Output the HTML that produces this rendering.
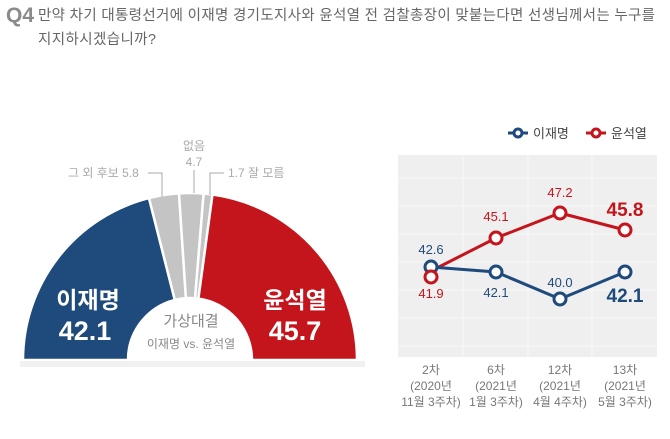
<!DOCTYPE html>
<html><head><meta charset="utf-8"><style>
body{margin:0;background:#fff;width:670px;height:434px;overflow:hidden;font-family:"Liberation Sans","Noto Sans CJK KR",sans-serif}
</style></head><body>
<svg width="670" height="434" viewBox="0 0 670 434" xmlns="http://www.w3.org/2000/svg" font-family="Liberation Sans, Noto Sans CJK KR, sans-serif">
<text x="6" y="22" font-size="21" font-weight="bold" fill="#8a8a8a">Q4</text>
<text x="38" y="20" font-size="14.5" fill="#666" textLength="617" lengthAdjust="spacing">만약 차기 대통령선거에 이재명 경기도지사와 윤석열 전 검찰총장이 맞붙는다면 선생님께서는 누구를</text>
<text x="38" y="44" font-size="14.5" fill="#666" textLength="118" lengthAdjust="spacing">지지하시겠습니까?</text>

<g stroke="#fff" stroke-width="2.5">
<path d="M23,360 A167,167 0 0 1 149,198.1 L174.8,299.9 A62,62 0 0 0 128,360Z" fill="#1f4a7c"/>
<path d="M149,198.1 A167,167 0 0 1 179,193.4 L185.9,298.1 A62,62 0 0 0 174.8,299.9Z" fill="#c4c4c4"/>
<path d="M179,193.4 A167,167 0 0 1 203.6,193.6 L195.1,298.2 A62,62 0 0 0 185.9,298.1Z" fill="#c4c4c4"/>
<path d="M203.6,193.6 A167,167 0 0 1 212.5,194.5 L198.4,298.6 A62,62 0 0 0 195.1,298.2Z" fill="#c4c4c4"/>
<path d="M212.5,194.5 A167,167 0 0 1 357,360 L252,360 A62,62 0 0 0 198.4,298.6Z" fill="#c4151c"/>
</g>
<rect x="20" y="361" width="345" height="6" fill="#f1f1f1"/>
<text x="88" y="308" font-size="23" font-weight="bold" fill="#fff" text-anchor="middle">이재명</text>
<text x="85" y="340" font-size="27" font-weight="bold" fill="#fff" text-anchor="middle">42.1</text>
<text x="295" y="308" font-size="23" font-weight="bold" fill="#fff" text-anchor="middle">윤석열</text>
<text x="295" y="340" font-size="27" font-weight="bold" fill="#fff" text-anchor="middle">45.7</text>
<text x="191" y="326" font-size="15" fill="#888" text-anchor="middle">가상대결</text>
<text x="191" y="348" font-size="12" fill="#888" text-anchor="middle">이재명 vs. 윤석열</text>
<g fill="#aaa" font-size="12">
<text x="68" y="177">그 외 후보 5.8</text>
<text x="194" y="150" text-anchor="middle">없음</text>
<text x="194" y="166" text-anchor="middle">4.7</text>
<text x="228" y="177">1.7 잘 모름</text>
</g>
<g stroke="#aaa" fill="none" stroke-width="1">
<path d="M148,173 H162 V197"/><path d="M194,170 V193"/><path d="M224,173 H210 V195"/>
</g>

<rect x="398" y="155" width="259" height="202" fill="#efefef"/>
<g stroke="#f8f8f8" stroke-width="1"><path d="M398,178H657M398,206H657M398,234H657M398,262H657M398,290H657M398,318H657M398,346H657M463,155V357M528,155V357M592,155V357"/></g>
<g fill="none" stroke-width="3">
<polyline points="431,271 496,238 560,213 625,230" stroke="#c4151c"/>
<polyline points="431,267 496,272 560,299 625,272" stroke="#1f4a7c"/>
</g>
<g fill="#fff" stroke-width="3">
<circle cx="431" cy="267" r="6" stroke="#1f4a7c"/><circle cx="496" cy="272" r="6" stroke="#1f4a7c"/><circle cx="560" cy="299" r="6" stroke="#1f4a7c"/><circle cx="625" cy="272" r="6" stroke="#1f4a7c"/>
<circle cx="431" cy="277" r="6" stroke="#c4151c"/><circle cx="496" cy="238" r="6" stroke="#c4151c"/><circle cx="560" cy="213" r="6" stroke="#c4151c"/><circle cx="625" cy="230" r="6" stroke="#c4151c"/>
</g>
<g font-size="13" text-anchor="middle">
<text x="431" y="254" fill="#1f4a7c">42.6</text>
<text x="431" y="298" fill="#c4151c">41.9</text>
<text x="496" y="221" fill="#c4151c">45.1</text>
<text x="496" y="297" fill="#1f4a7c">42.1</text>
<text x="560" y="197" fill="#c4151c">47.2</text>
<text x="560" y="287" fill="#1f4a7c">40.0</text>
<text x="625" y="216" fill="#c4151c" font-size="19" font-weight="bold">45.8</text>
<text x="625" y="302" fill="#1f4a7c" font-size="19" font-weight="bold">42.1</text>
</g>
<g font-size="12" fill="#777" text-anchor="middle">
<text x="431" y="374">2차</text><text x="431" y="390">(2020년</text><text x="431" y="406">11월 3주차)</text>
<text x="496" y="374">6차</text><text x="496" y="390">(2021년</text><text x="496" y="406">1월 3주차)</text>
<text x="560" y="374">12차</text><text x="560" y="390">(2021년</text><text x="560" y="406">4월 4주차)</text>
<text x="625" y="374">13차</text><text x="625" y="390">(2021년</text><text x="625" y="406">5월 3주차)</text>
</g>
<g stroke-width="3">
<path d="M508,133H528" stroke="#1f4a7c"/><circle cx="518" cy="133" r="4" fill="#fff" stroke="#1f4a7c"/>
<path d="M586,133H606" stroke="#c4151c"/><circle cx="596" cy="133" r="4" fill="#fff" stroke="#c4151c"/>
</g>
<text x="533" y="138" font-size="13" fill="#444">이재명</text>
<text x="611" y="138" font-size="13" fill="#444">윤석열</text>
</svg>
</body></html>
